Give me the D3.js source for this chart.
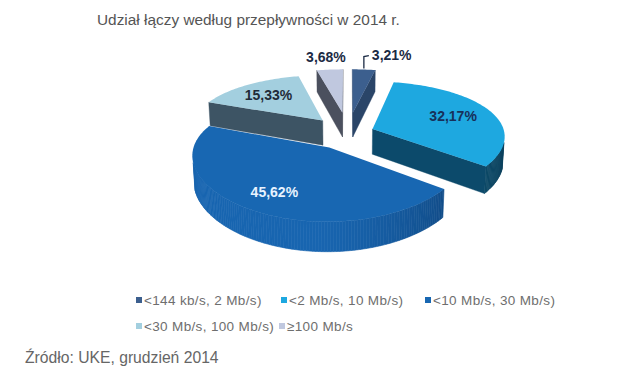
<!DOCTYPE html>
<html><head><meta charset="utf-8">
<script src="https://cdn.jsdelivr.net/npm/d3@7"></script>
<style>body{margin:0;background:#fff} svg{display:block}</style>
</head><body><svg id="c" width="640" height="378"></svg>
<script>
const title = "Udział łączy według przepływności w 2014 r.";
const source = "Źródło: UKE, grudzień 2014";
const categories = ["<144 kb/s, 2 Mb/s)", "<2 Mb/s, 10 Mb/s)", "<10 Mb/s, 30 Mb/s)", "<30 Mb/s, 100 Mb/s)", "≥100 Mb/s"];
const values = [3.21, 32.17, 45.62, 15.33, 3.68];
const valueLabels = ["3,21%", "32,17%", "45,62%", "15,33%", "3,68%"];

// styles
const topColors = ["#3c5f8e", "#1ea8e0", "#1867b2", "#a3cfdf", "#c0c8df"];
const wallLight = ["#30507a", "#105a7c", "#1865b0", "#40596a", "#4d5361"];
const wallDark  = ["#223a5c", "#083650", "#0a3360", "#34495a", "#3d4250"];
const radialCol = ["#2a4568", "#0c4a6b", "#0d4277", "#3d5464", "#4b505e"];
const labelCol  = ["#1b2a44", "#17305a", "#e8f3ff", "#1f2b38", "#1b2a44"];
const explode = [0.38, 0.2, 0.28, 0.3, 0.38];
const labelR  = [1.0, 0.68, 0.74, 0.7, 1.35];
const legendPos = [[136,300],[281,300],[425,300],[136,326],[279,326]];

const svg = d3.select("#c");
const cx = 348, cy = 133, Sx = 132, Sy = 135, sinP = 0.42, cosP = Math.sqrt(1 - sinP*sinP), Dy = 5.5, Dx = 8, H = 0.21;
const Zc = -Dy*cosP;
function proj(X, Z, Y) {
  const yv = Y*cosP + Z*sinP, zv = Z*cosP - Y*sinP;
  return [cx + Sx*X*Dx/(Dx + zv), cy - Sy*yv*Dy/(Dy + zv)];
}
const line = pts => "M" + pts.map(p => p[0].toFixed(2) + "," + p[1].toFixed(2)).join("L") + "Z";

const arcs = d3.pie().sort(null).value(d => d)(values).map((a, i) => {
  const m = (a.startAngle + a.endAngle)/2;
  return {...a, i, m, ox: explode[i]*Math.sin(m), oz: explode[i]*Math.cos(m)};
});
const order = arcs.slice().sort((a, b) => (b.oz + 0.5*Math.cos(b.m)) - (a.oz + 0.5*Math.cos(a.m)));

const g = svg.append("g");
order.forEach(a => {
  const i = a.i, a0 = a.startAngle, a1 = a.endAngle;
  const P = (t, r, Y) => proj(a.ox + r*Math.sin(t), a.oz + r*Math.cos(t), Y);
  const sg = g.append("g");
  const vis0 = (-Math.cos(a0))*(0 - a.ox) + Math.sin(a0)*(Zc - a.oz) > 0;
  const vis1 = (Math.cos(a1))*(0 - a.ox) + (-Math.sin(a1))*(Zc - a.oz) > 0;
  [[a0, vis0], [a1, vis1]].forEach(([t, v]) => {
    if (!v) return;
    const pts = [P(t, 0, 0), P(t, 1, 0), P(t, 1, -H), P(t, 0, -H)];
    sg.append("path").attr("d", line(pts)).attr("fill", radialCol[i]).attr("stroke", radialCol[i]).attr("stroke-width", 0.4);
  });
  const n = Math.max(2, Math.ceil((a1 - a0)/0.02));
  const ts = d3.range(n + 1).map(k => a0 + (a1 - a0)*k/n);
  const shade = d3.interpolateRgb(wallDark[i], wallLight[i]);
  for (let k = 0; k < n; k++) {
    const t = (ts[k] + ts[k+1])/2;
    const X = a.ox + Math.sin(t), Z = a.oz + Math.cos(t);
    if (Math.sin(t)*(0 - X) + Math.cos(t)*(Zc - Z) <= 0) continue;
    const b = Math.max(0, Math.min(1, 0.5 + 0.6*(-0.6*Math.sin(t) - 0.8*Math.cos(t))));
    const c = shade(b);
    const pts = [P(ts[k], 1, 0), P(ts[k+1], 1, 0), P(ts[k+1], 1, -H), P(ts[k], 1, -H)];
    sg.append("path").attr("d", line(pts)).attr("fill", c).attr("stroke", c).attr("stroke-width", 0.6);
  }
  const top = [P(a0, 0, 0)].concat(ts.map(t => P(t, 1, 0)));
  sg.append("path").attr("d", line(top)).attr("fill", topColors[i]);
});

// value labels
arcs.forEach(a => {
  const i = a.i;
  const p = proj(a.ox + labelR[i]*Math.sin(a.m), a.oz + labelR[i]*Math.cos(a.m), 0);
  const txt = g.append("text").text(valueLabels[i])
    .attr("font-family", "Liberation Sans, Arial, sans-serif").attr("font-weight", "bold")
    .attr("font-size", 14).attr("fill", labelCol[i]);
  if (i === 0) {
    const q = [p[0], p[1] - 1];
    g.append("path").attr("d", `M${q[0]},${q[1]}L${q[0]},${q[1]-12}L${q[0]+5},${q[1]-13}`)
      .attr("fill", "none").attr("stroke", "#1b2a44").attr("stroke-width", 1.3);
    txt.attr("x", q[0] + 8).attr("y", q[1] - 9);
  } else {
    txt.attr("x", p[0]).attr("y", p[1]).attr("dy", "0.35em").attr("text-anchor", "middle");
  }
});

// title
svg.append("text").attr("x", 97).attr("y", 25).text(title)
  .attr("font-family", "Liberation Sans, Arial, sans-serif").attr("font-size", 15.4).attr("fill", "#555");

// legend
const lg = svg.append("g").attr("font-family", "Liberation Sans, Arial, sans-serif").attr("font-size", 13.5)
  .attr("letter-spacing", 0.35).attr("fill", "#6e6e6e");
categories.forEach((c, i) => {
  const [x, y] = legendPos[i];
  lg.append("rect").attr("x", x).attr("y", y - 3).attr("width", 6).attr("height", 6).attr("fill", topColors[i]);
  lg.append("text").attr("x", x + 8).attr("y", y).attr("dy", "0.35em").text(c);
});

// source
svg.append("text").attr("x", 25).attr("y", 363).text(source)
  .attr("font-family", "Liberation Sans, Arial, sans-serif").attr("font-size", 15.7).attr("fill", "#666");
</script></body></html>
